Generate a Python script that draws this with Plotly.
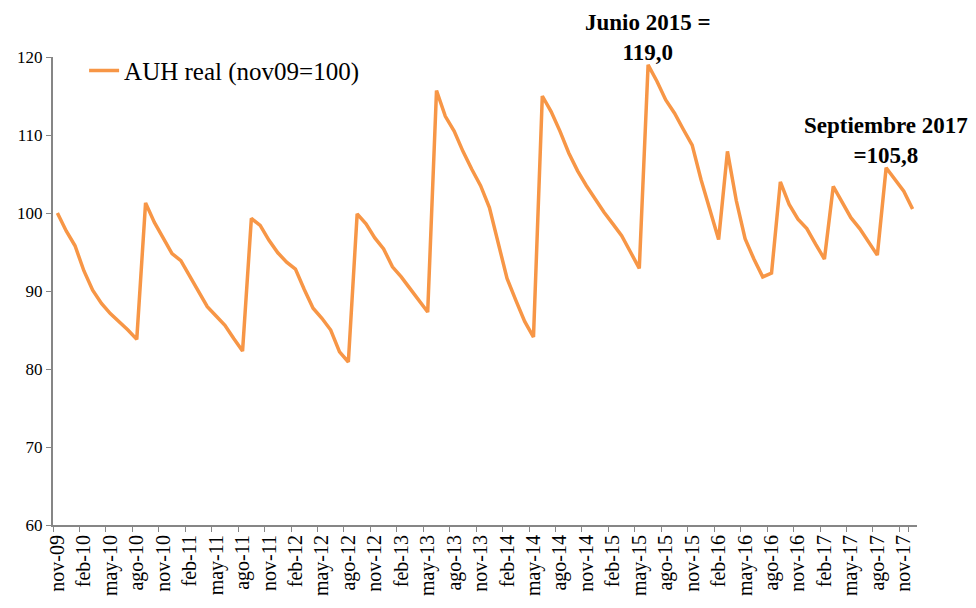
import plotly.graph_objects as go

# meses (nov-09 a dic-17) y AUH real, base nov09=100
MESES_ABR = ["ene", "feb", "mar", "abr", "may", "jun", "jul", "ago", "sep", "oct", "nov", "dic"]
MESES = []
for anio in range(2009, 2018):
    for m, abr in enumerate(MESES_ABR):
        if anio == 2009 and m < 10:
            continue
        MESES.append(f"{abr}-{str(anio)[2:]}")

AUH_REAL = [
    100.0, 97.7, 95.8, 92.6, 90.1, 88.4, 87.1, 86.1, 85.0, 83.8,
    101.3, 98.8, 96.8, 94.8, 93.9, 92.0, 90.1, 88.0, 86.8, 85.6,
    83.9, 82.3, 99.3, 98.4, 96.5, 94.9, 93.7, 92.8, 90.2, 87.8,
    86.5, 85.0, 82.2, 80.9, 99.9, 98.6, 96.8, 95.4, 93.1, 91.8,
    90.3, 88.8, 87.3, 115.7, 112.4, 110.5, 107.9, 105.6, 103.5, 100.7,
    96.3, 91.6, 88.8, 86.1, 84.1, 115.0, 113.0, 110.5, 107.7, 105.4,
    103.5, 101.8, 100.1, 98.6, 97.1, 95.0, 92.9, 119.0, 116.9, 114.5,
    112.8, 110.7, 108.7, 104.3, 100.5, 96.6, 107.9, 101.6, 96.7, 94.1,
    91.8, 92.3, 104.0, 101.1, 99.2, 98.0, 96.0, 94.1, 103.4, 101.4,
    99.4, 98.0, 96.3, 94.6, 105.8, 104.3, 102.8, 100.5,
]

TICK_LABELS = MESES[::3]

FONT = "Liberation Serif, Times New Roman, serif"
GRIS = "#868686"

fig = go.Figure()
fig.add_trace(go.Scatter(
    x=MESES, y=AUH_REAL,
    mode="lines",
    line=dict(color="#F79646", width=3.5),
    name="AUH real (nov09=100)",
))

fig.add_annotation(
    x=MESES[67], y=AUH_REAL[67], text="<b>Junio 2015 =<br>119,0</b>",
    showarrow=False, yanchor="bottom", yshift=-2,
    font=dict(family=FONT, size=23, color="black"),
)
fig.add_annotation(
    x=MESES[94], y=AUH_REAL[94], text="<b>Septiembre 2017<br>=105,8</b>",
    showarrow=False, yanchor="bottom", yshift=-2,
    font=dict(family=FONT, size=23, color="black"),
)

fig.update_layout(
    width=976, height=608,
    margin=dict(l=53, r=59, t=57, b=79),
    plot_bgcolor="white", paper_bgcolor="white",
    font=dict(family=FONT, size=17, color="black"),
    showlegend=True,
    legend=dict(
        x=0.036, y=1.02, xanchor="left", yanchor="top",
        font=dict(family=FONT, size=25, color="black"),
        bgcolor="rgba(0,0,0,0)",
    ),
    xaxis=dict(
        type="category",
        range=[-0.5, len(MESES) - 0.5],
        tickvals=TICK_LABELS, ticktext=TICK_LABELS,
        tickangle=-90,
        tickson="boundaries",
        ticks="outside", ticklen=5, tickcolor=GRIS, tickwidth=1,
        showline=True, linecolor=GRIS, linewidth=2,
        showgrid=False, zeroline=False,
        tickfont=dict(family=FONT, size=20),
    ),
    yaxis=dict(
        range=[60, 120], dtick=10,
        ticks="outside", ticklen=5, tickcolor=GRIS, tickwidth=1,
        showline=True, linecolor=GRIS, linewidth=2,
        showgrid=False, zeroline=False,
        tickfont=dict(family=FONT, size=17),
    ),
)

fig.write_html("out.html", config={"displayModeBar": False},
               post_script="document.body.style.margin='0';")
